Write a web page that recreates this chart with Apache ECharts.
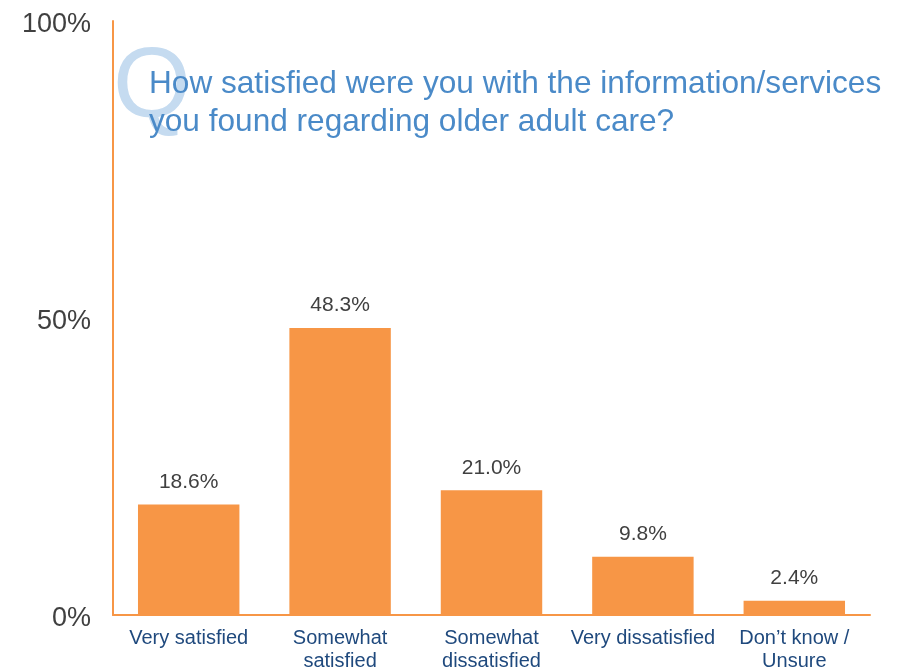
<!DOCTYPE html>
<html>
<head>
<meta charset="utf-8">
<script src="https://cdn.jsdelivr.net/npm/echarts@6/dist/echarts.min.js"></script>
<style>
  html, body { margin: 0; padding: 0; background: #fff; }
  #chart { width: 904px; height: 672px; }
</style>
</head>
<body>
<div id="chart"></div>
<script>
const categories = [
  "Very satisfied",
  "Somewhat\nsatisfied",
  "Somewhat\ndissatisfied",
  "Very dissatisfied",
  "Don\u2019t know /\nUnsure"
];
const values = [18.6, 48.3, 21.0, 9.8, 2.4];
const yTicks = [0, 50, 100];

const chart = echarts.init(document.getElementById("chart"));

const option = {
  animation: false,
  title: [
    {
      text: "Q",
      left: 108,
      top: 34,
      textStyle: {
        fontFamily: "Liberation Sans",
        fontSize: 100,
        fontWeight: "normal",
        color: "#C5DBF0"
      }
    },
    {
      text: "How satisfied were you with the information/services\nyou found regarding older adult care?",
      left: 144,
      top: 60,
      textStyle: {
        fontFamily: "Liberation Sans",
        fontSize: 31.6,
        fontWeight: "normal",
        color: "#4A8AC8",
        lineHeight: 38
      }
    }
  ],
  grid: {
    left: 113,
    right: 34,
    top: 21,
    bottom: 57,
    containLabel: false,
    outerBoundsMode: "none"
  },
  xAxis: {
    type: "category",
    data: categories,
    axisLine: { lineStyle: { color: "#F79646", width: 2 } },
    axisTick: { show: false },
    axisLabel: {
      interval: 0,
      margin: 12,
      fontFamily: "Liberation Sans",
      fontSize: 20,
      lineHeight: 23,
      color: "#1F497D"
    }
  },
  yAxis: {
    type: "value",
    min: 0,
    max: 100,
    interval: 50,
    axisLine: { show: true, lineStyle: { color: "#F79646", width: 2 } },
    axisTick: { show: false },
    splitLine: { show: false },
    axisLabel: {
      margin: 22,
      verticalAlign: "top",
      lineHeight: 8,
      fontFamily: "Liberation Sans",
      fontSize: 27,
      color: "#404040",
      formatter: function (v) {
        return yTicks.indexOf(v) >= 0 ? v + "%" : "";
      }
    }
  },
  series: [
    {
      type: "bar",
      data: values,
      barWidth: "67%",
      itemStyle: { color: "#F79646" },
      label: {
        show: true,
        position: "top",
        distance: 12,
        fontFamily: "Liberation Sans",
        fontSize: 21,
        color: "#404040",
        formatter: function (p) {
          return p.value.toFixed(1) + "%";
        }
      }
    }
  ]
};

chart.setOption(option);
</script>
</body>
</html>
